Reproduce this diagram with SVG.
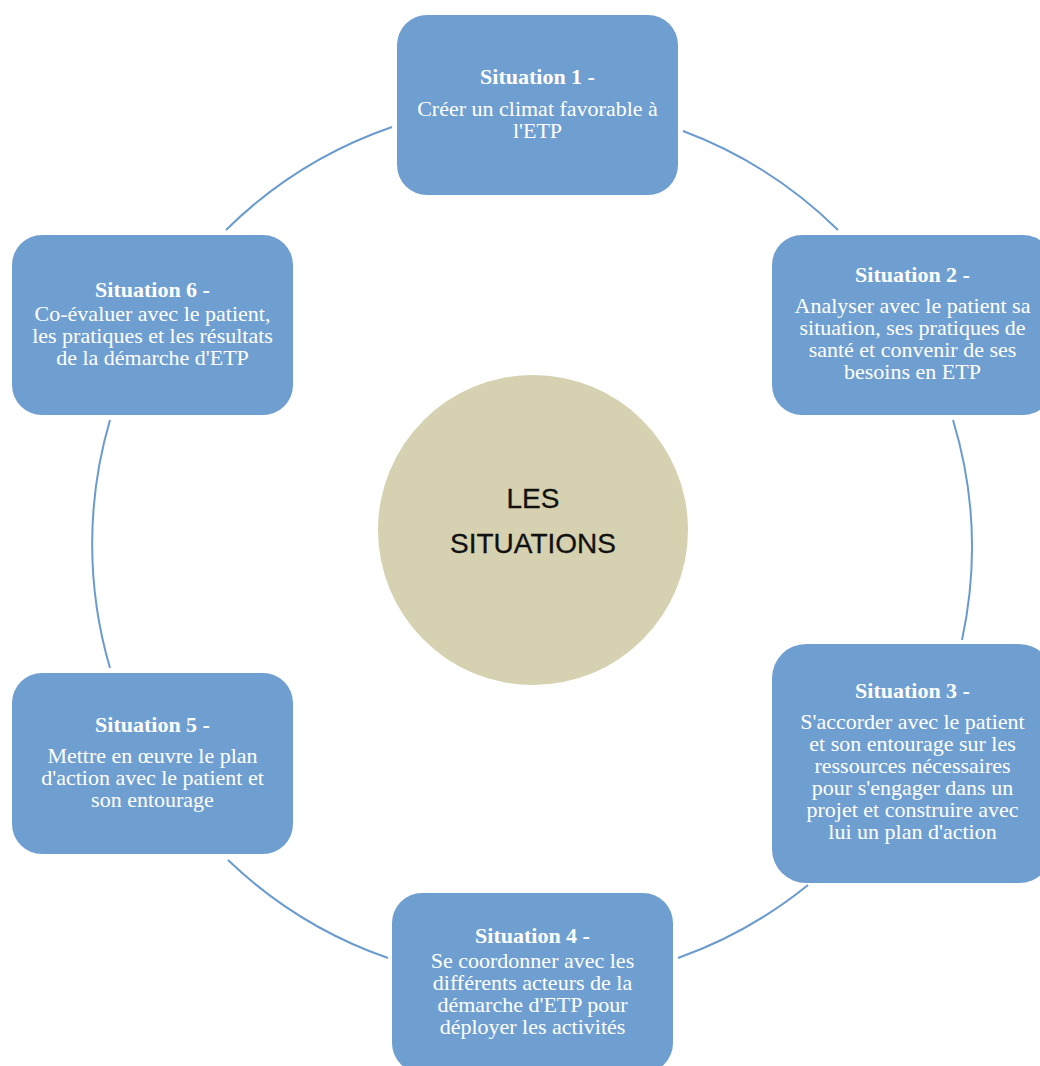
<svg xmlns="http://www.w3.org/2000/svg" width="1040" height="1066" viewBox="0 0 1040 1066">
<style>
.box{fill:#6f9fd1;}
.t{font-family:"Liberation Serif","Times New Roman",serif;font-size:22px;fill:#ffffff;text-anchor:middle;}
.b{font-weight:bold;}
.c{fill:none;stroke:#6a9bd0;stroke-width:2;}
.ct{font-family:"Liberation Sans",Arial,sans-serif;font-size:28px;fill:#111111;text-anchor:middle;stroke:#111111;stroke-width:0.3;}
</style>
<rect width="1040" height="1066" fill="#ffffff"/>
<g id="connectors">
<path class="c" d="M392 127 A440 440 0 0 0 226 230"/>
<path class="c" d="M683 131 A440 440 0 0 1 838 230"/>
<path class="c" d="M953 420 A440 440 0 0 1 962 640"/>
<path class="c" d="M808 885 A440 440 0 0 1 678 958"/>
<path class="c" d="M388 958 A440 440 0 0 1 228 860"/>
<path class="c" d="M110 668 A440 440 0 0 1 110 420"/>
</g>
<g id="center">
<circle cx="533" cy="530" r="155" fill="#d6d1b0"/>
<text class="ct" x="533" y="508">LES</text>
<text class="ct" x="533" y="553">SITUATIONS</text>
</g>
<g id="s1">
<rect class="box" x="397" y="15" width="281" height="180" rx="30"/>
<text class="t b" x="537.5" y="84">Situation 1 -</text>
<text class="t" x="537.5" y="116">Créer un climat favorable à</text>
<text class="t" x="537.5" y="138">l'ETP</text>
</g>
<g id="s2">
<rect class="box" x="772" y="235" width="281" height="180" rx="30"/>
<text class="t b" x="912.5" y="282">Situation 2 -</text>
<text class="t" x="912.5" y="313">Analyser avec le patient sa</text>
<text class="t" x="912.5" y="335">situation, ses pratiques de</text>
<text class="t" x="912.5" y="357">santé et convenir de ses</text>
<text class="t" x="912.5" y="379">besoins en ETP</text>
</g>
<g id="s3">
<rect class="box" x="772" y="644" width="281" height="239" rx="34"/>
<text class="t b" x="912.5" y="698">Situation 3 -</text>
<text class="t" x="912.5" y="729">S'accorder avec le patient</text>
<text class="t" x="912.5" y="751">et son entourage sur les</text>
<text class="t" x="912.5" y="773">ressources nécessaires</text>
<text class="t" x="912.5" y="795">pour s'engager dans un</text>
<text class="t" x="912.5" y="817">projet et construire avec</text>
<text class="t" x="912.5" y="839">lui un plan d'action</text>
</g>
<g id="s4">
<rect class="box" x="392" y="893" width="281" height="180" rx="30"/>
<text class="t b" x="532.5" y="943">Situation 4 -</text>
<text class="t" x="532.5" y="968">Se coordonner avec les</text>
<text class="t" x="532.5" y="990">différents acteurs de la</text>
<text class="t" x="532.5" y="1012">démarche d'ETP pour</text>
<text class="t" x="532.5" y="1034">déployer les activités</text>
</g>
<g id="s5">
<rect class="box" x="12" y="673" width="281" height="181" rx="30"/>
<text class="t b" x="152.5" y="732">Situation 5 -</text>
<text class="t" x="152.5" y="763">Mettre en œuvre le plan</text>
<text class="t" x="152.5" y="785">d'action avec le patient et</text>
<text class="t" x="152.5" y="807">son entourage</text>
</g>
<g id="s6">
<rect class="box" x="12" y="235" width="281" height="180" rx="30"/>
<text class="t b" x="152.5" y="297">Situation 6 -</text>
<text class="t" x="152.5" y="321">Co-évaluer avec le patient,</text>
<text class="t" x="152.5" y="343">les pratiques et les résultats</text>
<text class="t" x="152.5" y="365">de la démarche d'ETP</text>
</g>
</svg>
